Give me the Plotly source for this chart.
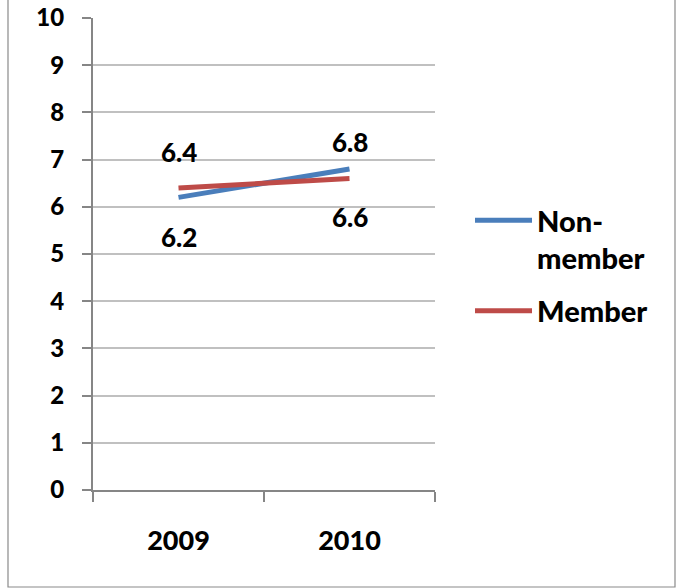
import plotly.graph_objects as go

# Survey scores by year for the two groups
years = ["2009", "2010"]
non_member = [6.2, 6.8]
member = [6.4, 6.6]
series_names = ["Non-<br>member", "Member"]
series_colors = ["#4A7EBB", "#BE4B48"]

# Vertical pixel offset of each value label relative to its point
non_member_label_shift = [-40, 27]
member_label_shift = [36, -39]

FONT = "Lato, 'Open Sans', Arial, sans-serif"
W, H = 676, 588
L, R, T, B = 93, 241, 18, 98

fig = go.Figure()
for i, (name, vals, color) in enumerate(zip(series_names, [non_member, member], series_colors)):
    fig.add_trace(go.Scatter(
        x=years, y=vals, name=name, mode="lines", legendgroup=f"g{i}",
        line=dict(color=color, width=5),
        hoverinfo="x+y",
    ))

annotations = []
for vals, shifts in [(non_member, non_member_label_shift), (member, member_label_shift)]:
    for i, (v, s) in enumerate(zip(vals, shifts)):
        annotations.append(dict(
            x=i, y=v, xref="x", yref="y", text=f"{v:.1f}", showarrow=False, yshift=s,
            font=dict(family=FONT, size=26, color="black", weight=900),
        ))

pw = W - L - R
ph = H - T - B
# outer chart frame
shapes = [dict(
    type="rect", xref="paper", yref="paper",
    x0=(8 - L) / pw, x1=(675 - L) / pw,
    y0=-(587 - T - ph) / ph, y1=(ph + T + 20) / ph,
    line=dict(color="#8A8A8A", width=1.2), fillcolor="rgba(0,0,0,0)", layer="below",
)]

fig.update_layout(
    width=W, height=H,
    margin=dict(l=L, r=R, t=T, b=B, autoexpand=False),
    paper_bgcolor="white", plot_bgcolor="white",
    font=dict(family=FONT, color="black"),
    showlegend=True,
    legend=dict(
        x=(470 - L) / pw, xanchor="left", y=0.625, yanchor="top",
        valign="top", itemwidth=57, tracegroupgap=12,
        font=dict(family=FONT, size=29, color="black", weight=900),
        bgcolor="rgba(0,0,0,0)",
    ),
    annotations=annotations,
    shapes=shapes,
    xaxis=dict(
        type="category", range=[-0.5, 1.5],
        showgrid=False, zeroline=False,
        showline=True, linecolor="#868686", linewidth=2,
        ticks="outside", tickson="boundaries", ticklen=10, tickwidth=2, tickcolor="#868686",
        tickfont=dict(family=FONT, size=27, color="black", weight=900),
        ticklabelstandoff=26,
    ),
    yaxis=dict(
        range=[0, 10], dtick=1, tick0=0,
        showgrid=True, gridcolor="#C0C0C0", gridwidth=2,
        zeroline=False,
        showline=True, linecolor="#868686", linewidth=2,
        ticks="outside", ticklen=9, tickwidth=2, tickcolor="#868686",
        tickfont=dict(family=FONT, size=24, color="black", weight=900),
        ticklabelstandoff=13,
    ),
)

fig.write_html("out.html")
